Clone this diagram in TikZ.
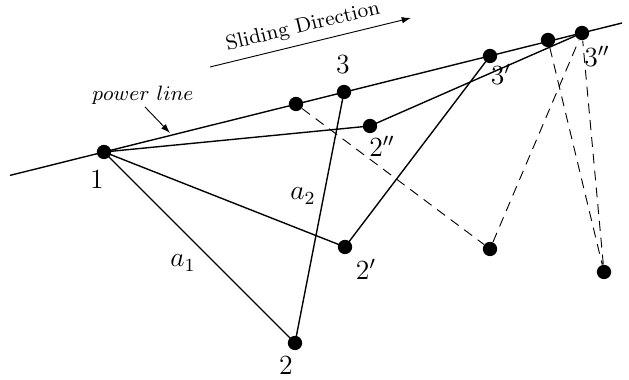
\documentclass[tikz,border=0pt]{standalone}
\usetikzlibrary{arrows.meta}
\begin{document}
\begin{tikzpicture}[x=0.433pt,y=-0.433pt,
  dot/.style={circle,fill=black,inner sep=0pt,minimum size=6.2pt},
  seg/.style={line width=0.6pt},
  dashseg/.style={line width=0.4pt,dash pattern=on 4.3pt off 3pt},
  lbl/.style={inner sep=0pt,font=\large},
  thinarrow/.style={line width=0.4pt,-{Latex[length=4pt,width=2.8pt]}}]
\useasboundingbox (0,0) rectangle (629,380);
% power line end points
\coordinate (plA) at (10,175.4);
\coordinate (plB) at (622,23);
% dots
\node[dot] (p1) at (104,152) {};
\node[dot] (pA) at (296,104) {};
\node[dot] (p3) at (344,92) {};
\node[dot] (p3a) at (490,56) {};
\node[dot] (pB) at (548,40) {};
\node[dot] (p3b) at (582,33) {};
\node[dot] (p2b) at (370,126) {};
\node[dot] (p2a) at (345,247) {};
\node[dot] (pD1) at (490,249) {};
\node[dot] (p2) at (295,343) {};
\node[dot] (pD2) at (604,272) {};
% power line
\draw[seg] (plA) -- (plB);
% solid triangles
\draw[seg] (p1.center) -- (p2.center) -- (p3.center);
\draw[seg] (p1.center) -- (p2a.center) -- (p3a.center);
\draw[seg] (p1.center) -- (p2b.center) -- (p3b.center);
% dashed
\draw[dashseg] (pA) -- (pD1) -- (p3b);
\draw[dashseg] (pB) -- (pD2) -- (p3b);
% labels
\node[lbl] (l1) at (97,180) {$1$};
\node[lbl] (l3) at (343,65) {$3$};
\node[lbl] (l2b) at (382,146) {$2''$};
\node[lbl] (l3a) at (501,74) {$3'$};
\node[lbl] (l3b) at (597,56) {$3''$};
\node[lbl] (l2a) at (366,269) {$2'$};
\node[lbl] (l2) at (286,366) {$2$};
\node[lbl] (la1) at (183,263) {$a_1$};
\node[lbl] (la2) at (303,196) {$a_2$};
% sliding direction
\coordinate (sdA) at (210,67);
\coordinate (sdB) at (411,18);
\draw[thinarrow] (sdA) -- (sdB);
\node[inner sep=0pt,rotate=13.5] (sdtext) at (303,27) {\small Sliding Direction};
% power line label
\node[inner sep=0pt] (pltext) at (143,95) {\small $power\ line$};
\coordinate (plTail) at (145,107);
\coordinate (plTip) at (170,133);
\draw[thinarrow] (plTail) -- (plTip);
\end{tikzpicture}
\end{document}
